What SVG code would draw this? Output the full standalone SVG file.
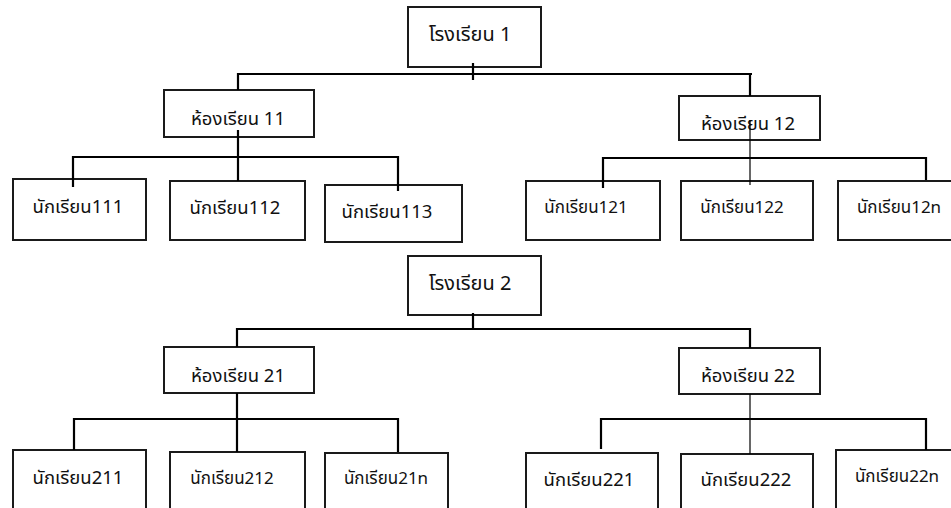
<svg xmlns="http://www.w3.org/2000/svg" width="951" height="508" viewBox="0 0 951 508">
<style>
.box{fill:#fff;stroke:#1a1a1a;stroke-width:2}
.ln{fill:none;stroke:#000;stroke-width:2.2}
.thin{fill:none;stroke:#000;stroke-width:1.2}
text{font-family:Tahoma,"Noto Sans Thai","Noto Sans","DejaVu Sans",sans-serif;font-size:18.5px;fill:#111;text-anchor:middle}
.sm{font-size:17px}
.sc{font-size:20px}
</style>
<rect width="951" height="508" fill="#fff"/>
<g id="nodes">
<g id="school1"><rect class="box" x="408" y="7" width="133" height="60"/><text class="sc" x="470" y="41">โรงเรียน 1</text></g>
<g id="room11"><rect class="box" x="164" y="90" width="150" height="47"/><text x="238" y="125">ห้องเรียน 11</text></g>
<g id="room12"><rect class="box" x="679" y="96" width="141" height="44"/><text x="748" y="130">ห้องเรียน 12</text></g>
<g id="s111"><rect class="box" x="13" y="179" width="133" height="61"/><text x="78" y="213">นักเรียน111</text></g>
<g id="s112"><rect class="box" x="170" y="181" width="135" height="59"/><text x="235" y="214">นักเรียน112</text></g>
<g id="s113"><rect class="box" x="325" y="185" width="137" height="57"/><text x="387" y="218">นักเรียน113</text></g>
<g id="s121"><rect class="box" x="526" y="181" width="134" height="59"/><text class="sm" x="586" y="213">นักเรียน121</text></g>
<g id="s122"><rect class="box" x="681" y="181" width="132" height="59"/><text class="sm" x="742" y="213">นักเรียน122</text></g>
<g id="s12n"><rect class="box" x="838" y="181" width="120" height="59"/><text class="sm" x="899" y="213">นักเรียน12n</text></g>
<g id="school2"><rect class="box" x="408" y="256" width="133" height="59"/><text class="sc" x="470" y="290">โรงเรียน 2</text></g>
<g id="room21"><rect class="box" x="164" y="347" width="150" height="46"/><text x="238" y="382">ห้องเรียน 21</text></g>
<g id="room22"><rect class="box" x="679" y="348" width="141" height="46"/><text x="748" y="382">ห้องเรียน 22</text></g>
<g id="s211"><rect class="box" x="13" y="450" width="133" height="70"/><text x="78" y="484">นักเรียน211</text></g>
<g id="s212"><rect class="box" x="170" y="452" width="135" height="70"/><text class="sm" x="232" y="484">นักเรียน212</text></g>
<g id="s21n"><rect class="box" x="325" y="453" width="123" height="70"/><text class="sm" x="386" y="484">นักเรียน21n</text></g>
<g id="s221"><rect class="box" x="526" y="453" width="132" height="70"/><text x="589" y="486">นักเรียน221</text></g>
<g id="s222"><rect class="box" x="681" y="454" width="132" height="70"/><text x="746" y="486">นักเรียน222</text></g>
<g id="s22n"><rect class="box" x="836" y="450" width="122" height="70"/><text class="sm" x="897" y="482">นักเรียน22n</text></g>
</g>
<g id="connectors">
<path class="ln" d="M238 90V74H752M750 74V96M473 63V80"/>
<path class="ln" d="M73 187V157H398V191M238 130V181"/>
<path class="ln" d="M603 188V158H926V180"/>
<path class="thin" d="M750 120V185"/>
<path class="ln" d="M237 347V329H750V348M473 313V329"/>
<path class="ln" d="M74 450V419H398V452M237 393V452"/>
<path class="ln" d="M601 449V419H926V450"/>
<path class="thin" d="M750 394V454"/>
</g>
</svg>
